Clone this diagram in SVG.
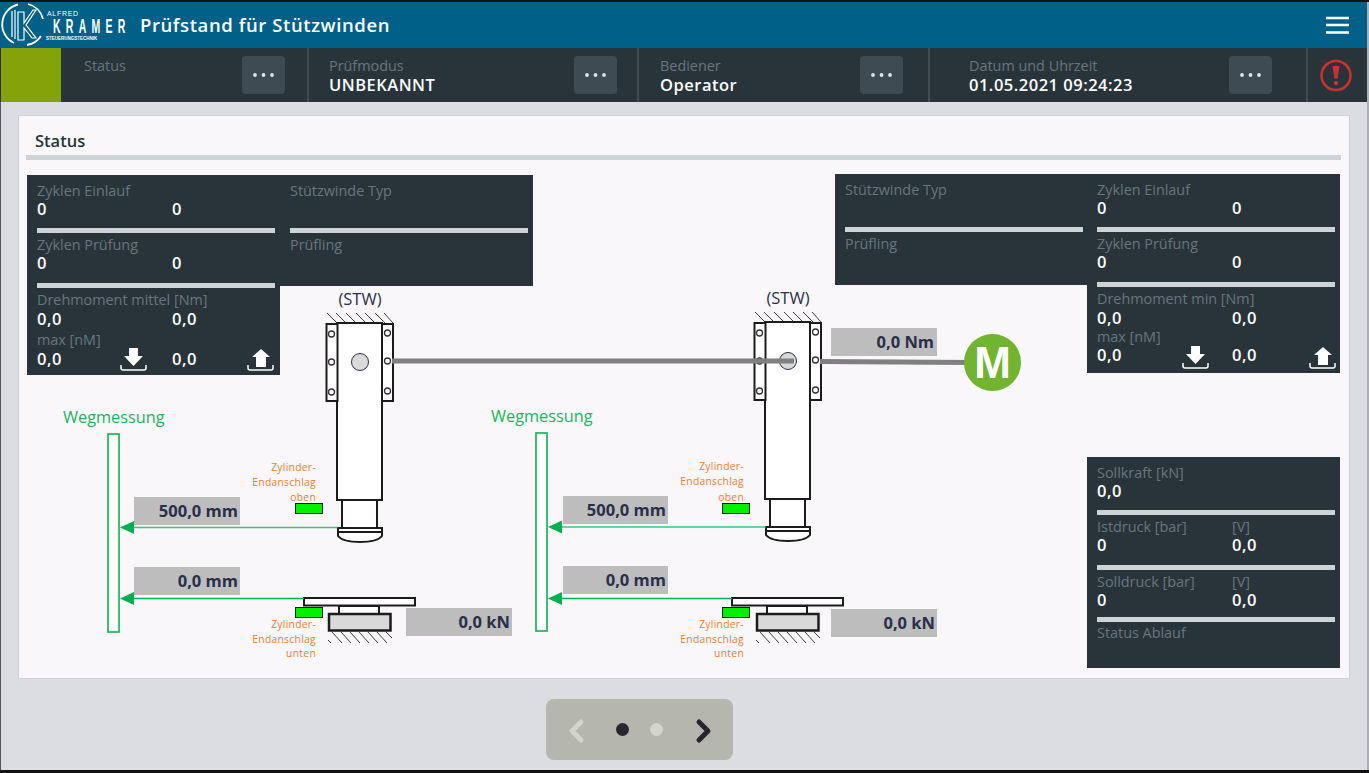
<svg xmlns="http://www.w3.org/2000/svg" width="1369" height="773" viewBox="0 0 1369 773">
<style>
text{font-family:"Open Sans","Noto Sans","Liberation Sans",sans-serif}
.lbl{font-size:14.4px;fill:#68757d}
.val{font-size:16.5px;font-weight:600;fill:#fff;letter-spacing:.5px}
.panel{fill:#29343a}
.sep{fill:#ced3d8}
.btn{fill:#3f4b52}
.dot{fill:#dfe3e8}
.div{fill:#3f4b52}
.meas{fill:#bdbdbd}
.mt{font-size:16.5px;font-weight:700;fill:#2a2f4a;text-anchor:end}
.or{font-size:10.3px;fill:#ed7d31;text-anchor:end;letter-spacing:.3px}
.gr{font-size:16.3px;fill:#1cb45c}
.stw{font-size:16.5px;fill:#2b3048;text-anchor:middle}
.w{fill:#fff;stroke:#1c1c1c;stroke-width:2}
.h{fill:none;stroke:#444;stroke-width:1}
.hole{fill:#fff;stroke:#333;stroke-width:1.3}
.glink{stroke:#00b050;stroke-width:1.3;fill:none}
.ls{fill:#00f000;stroke:#1c1c1c;stroke-width:1}
.ic{fill:#fff}
.icl{fill:none;stroke:#fff;stroke-width:1.5}
.logo{fill:#fff;font-family:"Liberation Sans",sans-serif}
</style>
<defs>
<g id="more"><rect x="0" y="0" width="43" height="38" rx="4" class="btn"/><circle cx="13" cy="19" r="1.9" class="dot"/><circle cx="21.500" cy="19" r="1.9" class="dot"/><circle cx="30" cy="19" r="1.9" class="dot"/></g>
<g id="winch">
<path class="h" d="M327 313l10 10M336 313l10 10M346 313l10 10M356 313l10 10M365 313l10 10M375 313l10 10M384 313l9 10"/>
<rect x="337" y="323" width="45" height="177" class="w"/>
<rect x="326.500" y="324" width="11" height="77" class="w"/>
<rect x="382" y="324" width="11" height="77" class="w"/>
<circle cx="331.500" cy="334" r="3" class="hole"/><circle cx="331.500" cy="362" r="3" class="hole"/><circle cx="331.500" cy="392" r="3" class="hole"/>
<circle cx="387.500" cy="333" r="3" class="hole"/><circle cx="387.500" cy="361" r="3" class="hole"/><circle cx="387.500" cy="391" r="3" class="hole"/>
<circle cx="360" cy="362" r="8.500" fill="#d9d9d9" stroke="#2b3048" stroke-width="1"/>
<rect x="342" y="500" width="35" height="28" class="w"/>
<rect x="338" y="528" width="44" height="4" class="w"/>
<path class="w" d="M338 532v4c4 5 14 6 22 6s18-1 22-6v-4z"/>
</g>
<g id="base">
<rect x="304" y="598" width="111" height="7.500" class="w" stroke-width="1.500"/>
<rect x="339" y="606" width="40" height="8" class="w"/>
<rect x="329" y="614" width="61.500" height="16.500" fill="#d9d9d9" stroke="#1c1c1c" stroke-width="2.500"/>
<path class="h" d="M328 640l3 3M332 632l10 11M341 632l10 11M350 632l10 11M359 632l10 11M368 632l10 11M377 632l10 11M386 632l6 6"/>
</g>
<path id="ah" d="M0 0l14-6.500v13z" fill="#00b050"/>
</defs>

<rect width="1369" height="773" fill="#dcdde1"/>
<rect x="0" y="0" width="1369" height="2" fill="#111"/>
<rect x="0" y="770" width="1369" height="3" fill="#111"/>
<rect x="1367" y="2" width="2" height="768" fill="#aab0b6"/>
<rect x="0" y="2" width="1" height="768" fill="#555"/>

<g id="titlebar">
<rect x="0" y="2" width="1367" height="46" fill="#006088"/>
<g id="logo" fill="none" stroke="#fff">
<path stroke-width="1.800" d="M18 4.500A20.500 20.500 0 0 0 14 43M27 45A20.500 20.500 0 0 0 41 36M28 4A20.500 20.500 0 0 1 43 19"/>
<path stroke-width="1.200" d="M12 11V37M15 10V39M18 12H24V23L33 10H36L26 25L36 38H32L24 28V40H18Z"/>
</g>
<text x="47" y="16" class="logo" font-size="7" letter-spacing=".7">ALFRED</text>
<text transform="matrix(.5 0 0 1 53 33)" class="logo" font-size="21" letter-spacing="10.500" font-weight="700">KRAMER</text>
<text x="46" y="40" class="logo" font-size="4.500" font-weight="700">STEUERUNGSTECHNIK</text>
<text x="140" y="32" fill="#fff" font-size="18.500" font-weight="600" letter-spacing=".58">Prüfstand für Stützwinden</text>
<path d="M1326 18h23M1326 25h23M1326 32.500h23" stroke="#fff" stroke-width="2.500" fill="none"/>
</g>

<g id="statusbar">
<rect x="0" y="48" width="1367" height="54" fill="#29343a"/>
<rect x="1" y="48" width="60" height="54" fill="#84a30a"/>
<rect x="307" y="48" width="2" height="54" class="div"/>
<rect x="637" y="48" width="2" height="54" class="div"/>
<rect x="928" y="48" width="2" height="54" class="div"/>
<rect x="1306" y="48" width="2" height="54" class="div"/>
<text x="84" y="71" class="lbl">Status</text>
<text x="329" y="71" class="lbl">Prüfmodus</text>
<text x="329" y="91" class="val">UNBEKANNT</text>
<text x="660" y="71" class="lbl">Bediener</text>
<text x="660" y="91" class="val">Operator</text>
<text x="969" y="71" class="lbl">Datum und Uhrzeit</text>
<text x="969" y="91" class="val">01.05.2021 09:24:23</text>
<use href="#more" x="242" y="56"/><use href="#more" x="574" y="56"/><use href="#more" x="860" y="56"/><use href="#more" x="1229" y="56"/>
<g id="alarm"><circle cx="1336" cy="75.500" r="14.500" fill="none" stroke="#c9302f" stroke-width="2.500"/><path d="M1332.500 66h7l-2 12.500h-3z" fill="#c9302f"/><circle cx="1336" cy="83" r="2.200" fill="#c9302f"/></g>
</g>

<g id="content">
<rect x="18.500" y="115.500" width="1331" height="563" fill="#f9f7f9" stroke="#ced3d8"/>
<text x="35" y="147" font-size="16.500" font-weight="600" fill="#29343a">Status</text>
<rect x="26" y="155" width="1315" height="5" class="sep"/>
</g>

<g id="panel-left">
<rect x="27" y="175" width="506" height="111" class="panel"/>
<rect x="27" y="286" width="253" height="89" class="panel"/>
<rect x="37" y="228" width="238" height="5" class="sep"/><rect x="290" y="228" width="238" height="5" class="sep"/>
<rect x="37" y="283" width="238" height="5" class="sep"/>
<text x="37" y="196" class="lbl">Zyklen Einlauf</text><text x="37" y="215" class="val">0</text><text x="172" y="215" class="val">0</text>
<text x="290" y="196" class="lbl">Stützwinde Typ</text>
<text x="37" y="250" class="lbl">Zyklen Prüfung</text><text x="37" y="269" class="val">0</text><text x="172" y="269" class="val">0</text>
<text x="290" y="250" class="lbl">Prüfling</text>
<text x="37" y="305" class="lbl">Drehmoment mittel [Nm]</text><text x="37" y="325" class="val">0,0</text><text x="172" y="325" class="val">0,0</text>
<text x="37" y="345" class="lbl">max [nM]</text><text x="37" y="365" class="val">0,0</text><text x="172" y="365" class="val">0,0</text>
<g id="down-l"><path class="ic" d="M129 348h9v8h5l-9.500 10-9.500-10h5z"/><path class="icl" d="M121 365v3a2 2 0 0 0 2 2h21a2 2 0 0 0 2-2v-3"/></g>
<g id="up-l"><path class="ic" d="M261 349l9 8h-4v10h-10v-10h-4z"/><path class="icl" d="M248 365v3a2 2 0 0 0 2 2h21a2 2 0 0 0 2-2v-3"/></g>
</g>

<g id="panel-right">
<rect x="835" y="174" width="505" height="111" class="panel"/>
<rect x="1087" y="285" width="253" height="88" class="panel"/>
<rect x="845" y="227" width="238" height="5" class="sep"/><rect x="1097" y="227" width="238" height="5" class="sep"/>
<rect x="1097" y="282" width="238" height="5" class="sep"/>
<text x="845" y="195" class="lbl">Stützwinde Typ</text>
<text x="1097" y="195" class="lbl">Zyklen Einlauf</text><text x="1097" y="214" class="val">0</text><text x="1232" y="214" class="val">0</text>
<text x="845" y="249" class="lbl">Prüfling</text>
<text x="1097" y="249" class="lbl">Zyklen Prüfung</text><text x="1097" y="268" class="val">0</text><text x="1232" y="268" class="val">0</text>
<text x="1097" y="304" class="lbl">Drehmoment min [Nm]</text><text x="1097" y="324" class="val">0,0</text><text x="1232" y="324" class="val">0,0</text>
<text x="1097" y="342" class="lbl">max [nM]</text><text x="1097" y="361" class="val">0,0</text><text x="1232" y="361" class="val">0,0</text>
<g id="down-r"><path class="ic" d="M1191 346h9v8h5l-9.500 10-9.500-10h5z"/><path class="icl" d="M1183 363v3a2 2 0 0 0 2 2h21a2 2 0 0 0 2-2v-3"/></g>
<g id="up-r"><path class="ic" d="M1323 347l9 8h-4v10h-10v-10h-4z"/><path class="icl" d="M1310 363v3a2 2 0 0 0 2 2h21a2 2 0 0 0 2-2v-3"/></g>
</g>

<g id="panel-force">
<rect x="1087" y="457" width="253" height="211" class="panel"/>
<rect x="1097" y="510" width="238" height="5" class="sep"/><rect x="1097" y="565" width="238" height="5" class="sep"/><rect x="1097" y="617" width="238" height="5" class="sep"/>
<text x="1097" y="478" class="lbl">Sollkraft [kN]</text><text x="1097" y="497" class="val">0,0</text>
<text x="1097" y="532" class="lbl">Istdruck [bar]</text><text x="1232" y="532" class="lbl">[V]</text><text x="1097" y="551" class="val">0</text><text x="1232" y="551" class="val">0,0</text>
<text x="1097" y="587" class="lbl">Solldruck [bar]</text><text x="1232" y="587" class="lbl">[V]</text><text x="1097" y="606" class="val">0</text><text x="1232" y="606" class="val">0,0</text>
<text x="1097" y="638" class="lbl">Status Ablauf</text>
</g>

<g id="winch-left"><use href="#winch"/><text x="360" y="305" class="stw">(STW)</text></g>
<g id="winch-right"><use href="#winch" x="428" y="-1"/><text x="788" y="304" class="stw">(STW)</text></g>
<g id="base-left"><use href="#base"/></g>
<g id="base-right"><use href="#base" x="428"/></g>

<g id="connectors">
<path d="M392 361H794" stroke="#808080" stroke-width="5" fill="none"/>
<path d="M820 361.500L970 362.500" stroke="#808080" stroke-width="5" fill="none"/>
<path class="glink" d="M134 527.500H338" stroke-opacity=".75"/><path class="glink" d="M134 598.500H304"/>
<path class="glink" d="M562 527H766" stroke-opacity=".75"/><path class="glink" d="M562 598.500H732"/>
<use href="#ah" x="120" y="527.500"/><use href="#ah" x="120" y="598.500"/>
<use href="#ah" x="548" y="527"/><use href="#ah" x="548" y="598.500"/>
</g>

<g id="motor"><circle cx="992.500" cy="362.500" r="28.500" fill="#72b32f"/><text x="992.500" y="378" fill="#fff" font-size="44" font-weight="700" text-anchor="middle" style="font-family:'Liberation Sans',sans-serif">M</text></g>

<g id="measure-torque"><rect x="831" y="328" width="106" height="28" class="meas"/><text x="934" y="348" class="mt">0,0 Nm</text></g>

<g id="scale-left">
<text x="63" y="423" class="gr">Wegmessung</text>
<rect x="108" y="434" width="11" height="198" fill="#fff" stroke="#1cb45c" stroke-width="1.700"/>
<rect x="134" y="497" width="106" height="28" class="meas"/><text x="238" y="517" class="mt">500,0 mm</text>
<rect x="134" y="567" width="106" height="28" class="meas"/><text x="238" y="587" class="mt">0,0 mm</text>
<rect x="406" y="608" width="106" height="28" class="meas"/><text x="510" y="628" class="mt">0,0 kN</text>
</g>
<g id="scale-right">
<text x="491" y="422" class="gr">Wegmessung</text>
<rect x="536" y="433" width="11" height="198" fill="#fff" stroke="#1cb45c" stroke-width="1.700"/>
<rect x="563" y="496" width="105" height="28" class="meas"/><text x="666" y="516" class="mt">500,0 mm</text>
<rect x="563" y="566" width="105" height="28" class="meas"/><text x="666" y="586" class="mt">0,0 mm</text>
<rect x="831" y="609" width="106" height="28" class="meas"/><text x="935" y="629" class="mt">0,0 kN</text>
</g>

<g id="limit-top-left"><rect x="295.500" y="503.500" width="27" height="10" class="ls"/><text class="or" x="316" y="471">Zylinder-</text><text class="or" x="316" y="486">Endanschlag</text><text class="or" x="316" y="501">oben</text></g>
<g id="limit-bottom-left"><rect x="295.500" y="607.500" width="27" height="10" class="ls"/><text class="or" x="316" y="628">Zylinder-</text><text class="or" x="316" y="643">Endanschlag</text><text class="or" x="316" y="657">unten</text></g>
<g id="limit-top-right"><rect x="722.500" y="503.500" width="27" height="10" class="ls"/><text class="or" x="744" y="470">Zylinder-</text><text class="or" x="744" y="485">Endanschlag</text><text class="or" x="744" y="501">oben</text></g>
<g id="limit-bottom-right"><rect x="722.500" y="607.500" width="27" height="10" class="ls"/><text class="or" x="744" y="628">Zylinder-</text><text class="or" x="744" y="643">Endanschlag</text><text class="or" x="744" y="657">unten</text></g>

<g id="pager">
<rect x="546" y="699" width="187" height="61" rx="8" fill="#b5b6ae"/>
<path d="M581 722l-9 9 9 9" fill="none" stroke="#d2d4cd" stroke-width="5" stroke-linecap="round" stroke-linejoin="round"/>
<circle cx="622.500" cy="729.500" r="6.500" fill="#29252e"/>
<circle cx="656.500" cy="729.500" r="6.500" fill="#d2d4cd"/>
<path d="M699 722l9 9-9 9" fill="none" stroke="#29252e" stroke-width="5" stroke-linecap="round" stroke-linejoin="round"/>
</g>
</svg>
